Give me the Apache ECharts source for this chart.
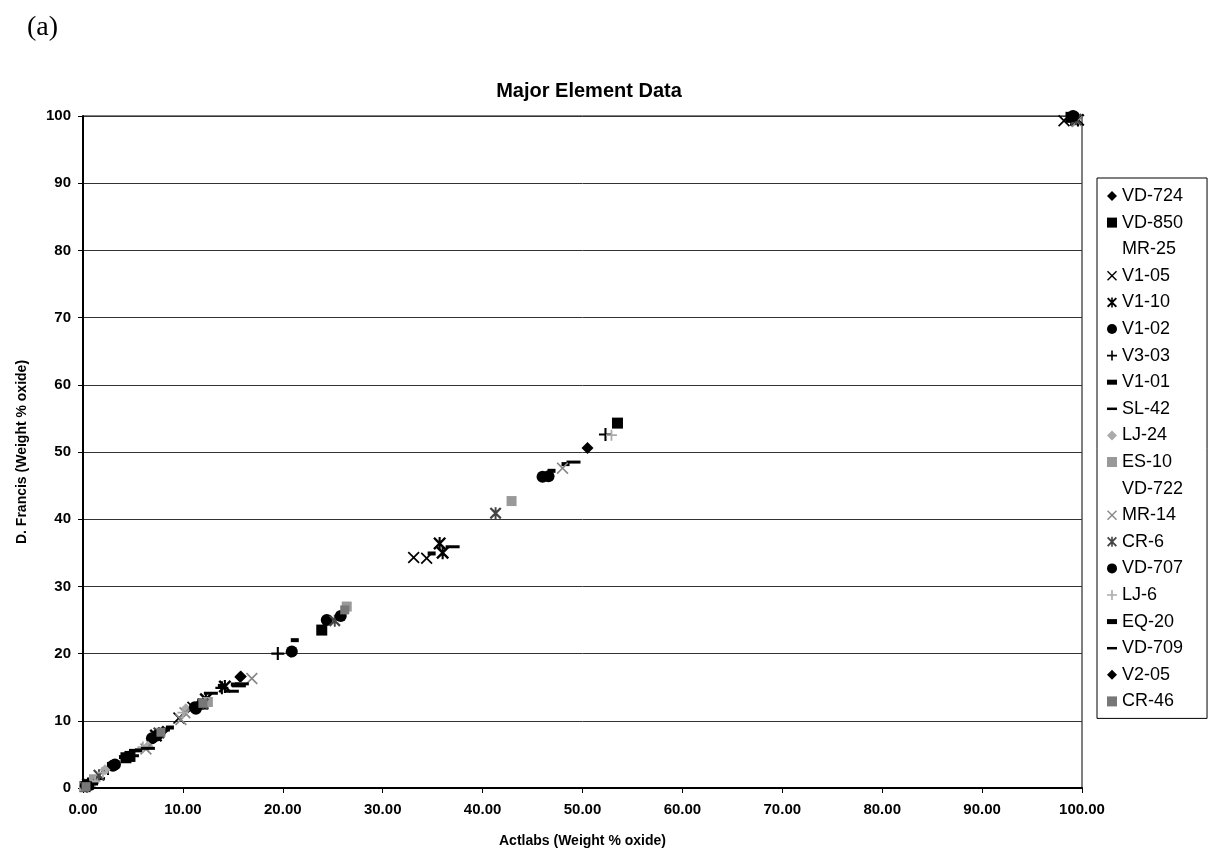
<!DOCTYPE html>
<html>
<head>
<meta charset="utf-8">
<script src="https://cdn.jsdelivr.net/npm/echarts@6/dist/echarts.min.js"></script>
<style>html,body{margin:0;padding:0;background:#fff}#c{width:1218px;height:856px}</style>
</head>
<body>
<div id="c"></div>
<script>
// ---- Data (x = Actlabs, y = D. Francis), weight % oxide ----
const seriesNames = ['VD-724','VD-850','MR-25','V1-05','V1-10','V1-02','V3-03','V1-01','SL-42','LJ-24','ES-10','VD-722','MR-14','CR-6','VD-707','LJ-6','EQ-20','VD-709','V2-05','CR-46'];
const xTicks = [0,10,20,30,40,50,60,70,80,90,100];

const VD724 = [[50.5,50.6],[15.8,16.6],[11.5,12.2],[7.0,7.4],[0.3,0.5],[99.0,99.7]];
const VD850 = [[53.5,54.3],[23.9,23.5],[4.3,4.5],[4.7,4.7],[12.0,12.5],[0.2,0.2],[98.9,99.8]];
const MR25  = [[46.4,46.6],[14.6,14.9],[9.2,9.5],[3.5,3.8],[0.4,0.4],[99.1,99.5]];
const V105  = [[33.1,34.3],[34.4,34.2],[11.0,12.0],[9.6,10.4],[98.2,99.3]];
const V110  = [[35.7,36.4],[36.0,35.0],[12.3,13.2],[14.2,15.1],[7.3,7.8],[0.5,0.6],[99.6,99.4]];
const V102  = [[20.9,20.3],[24.4,25.0],[6.9,7.4],[3.0,3.3],[11.3,11.8],[0.6,0.4],[99.2,99.9]];
const V303  = [[19.5,20.0],[52.3,52.6],[13.9,14.9],[2.5,2.9],[0.4,0.3],[98.9,99.5]];
const V101  = [[34.9,34.9],[21.2,22.0],[48.3,48.2],[15.2,15.4],[8.3,8.7],[5.6,5.6],[0.9,1.2]];
const SL42  = [[37.0,35.9],[49.1,48.5],[15.6,15.2],[14.9,14.4],[5.3,5.6],[1.5,1.4]];
const LJ24  = [[26.3,26.9],[10.3,11.8],[2.2,2.7],[6.5,6.2],[0.2,0.5]];
const ES10  = [[42.9,42.7],[26.4,27.0],[12.5,12.8],[1.1,1.3],[0.1,0.2]];
const VD722 = [[45.8,46.0],[15.0,15.2],[10.5,10.9],[2.8,3.0],[0.5,0.5],[99.3,99.6]];
const MR14  = [[48.0,47.6],[16.9,16.3],[10.2,11.2],[6.3,5.8],[9.8,10.2],[99.5,99.2]];
const CR6   = [[41.3,40.9],[25.2,24.9],[12.0,12.5],[7.6,8.2],[1.6,1.9],[99.4,99.5]];
const VD707 = [[46.0,46.3],[46.6,46.4],[25.8,25.6],[11.2,12.0],[7.4,7.8],[3.2,3.5],[0.3,0.4],[99.1,100.0]];
const LJ6   = [[52.9,52.5],[10.0,11.2],[2.0,2.3],[6.0,6.1],[1.2,1.0]];
const EQ20  = [[46.9,47.2],[13.9,15.2],[8.7,9.0],[4.0,4.6],[0.5,0.7]];
const VD709 = [[6.5,5.9],[15.9,15.5],[12.8,14.1],[4.9,4.8],[0.8,0.6]];
const V205  = [[20.8,20.2],[11.8,12.4],[15.7,16.5],[8.0,8.5],[0.2,0.3]];
const CR46  = [[26.2,26.5],[12.0,12.6],[7.8,8.3],[0.3,0.2]];
const seriesData = [VD724,VD850,MR25,V105,V110,V102,V303,V101,SL42,LJ24,ES10,VD722,MR14,CR6,VD707,LJ6,EQ20,VD709,V205,CR46];

// ---- Marker styles ----
const P_X = 'path://M0,1 L1,0 L5,4 L9,0 L10,1 L6,5 L10,9 L9,10 L5,6 L1,10 L0,9 L4,5 Z';
const P_AST = 'path://M0,1.3 L1.3,0 L5,3.7 L8.7,0 L10,1.3 L6.3,5 L10,8.7 L8.7,10 L5,6.3 L1.3,10 L0,8.7 L3.7,5 Z M4.2,0 L5.8,0 L5.8,10 L4.2,10 Z';
const P_PLUS = 'path://M4.2,0 H5.8 V4.2 H10 V5.8 H5.8 V10 H4.2 V5.8 H0 V4.2 H4.2 Z';
const P_SD = 'path://M0,0 H6 V3 H0 Z';
const P_LD = 'path://M0,0 H12 V3 H0 Z';
const styles = [
  {s:'diamond', z:12, c:'#000'},
  {s:'rect', z:11, c:'#000'},
  {s:'triangle', z:9, c:'rgba(0,0,0,0)'},
  {s:P_X, z:12, c:'#000'},
  {s:P_AST, z:13, c:'#000'},
  {s:'circle', z:12, c:'#000'},
  {s:P_PLUS, z:13, c:'#000'},
  {s:P_SD, z:[8,4], c:'#000'},
  {s:P_LD, z:[14,3], c:'#000'},
  {s:'diamond', z:11, c:'#aaa'},
  {s:'rect', z:10, c:'#999'},
  {s:'triangle', z:9, c:'rgba(0,0,0,0)'},
  {s:P_X, z:12, c:'#888'},
  {s:P_AST, z:12, c:'#444'},
  {s:'circle', z:12, c:'#000'},
  {s:P_PLUS, z:11, c:'#aaa'},
  {s:P_SD, z:[8,4], c:'#000'},
  {s:P_LD, z:[14,3], c:'#000'},
  {s:'diamond', z:11, c:'#000'},
  {s:'rect', z:9, c:'#777'}
];

const chart = echarts.init(document.getElementById('c'));
const FONT = 'Liberation Sans, Arial, sans-serif';
chart.setOption({
  backgroundColor: '#fff',
  animation: false,
  title: {
    text: 'Major Element Data', left: 584, top: 76, textAlign: 'center',
    textStyle: {fontFamily: FONT, fontSize: 20, fontWeight: 'bold', color: '#000'}
  },
  graphic: [{
    type: 'text', left: 27, top: 14,
    style: {text: '(a)', font: '28px "Liberation Serif", "Times New Roman", serif', fill: '#000'}
  }],
  legend: {
    orient: 'vertical', left: 1097, top: 178,
    padding: [9, 24, 8, 10],
    borderColor: '#000', borderWidth: 1,
    itemWidth: 10, itemHeight: 10, itemGap: 8.6,
    textStyle: {fontFamily: FONT, fontSize: 18, color: '#000'},
    data: seriesNames
  },
  grid: {left: 83, right: 136, top: 116, bottom: 68, show: true, borderColor: '#000', borderWidth: 1},
  xAxis: {
    type: 'value', min: 0, max: 100, interval: 10,
    name: 'Actlabs (Weight % oxide)', nameLocation: 'middle', nameGap: 46,
    nameTextStyle: {fontFamily: FONT, fontSize: 14, fontWeight: 'bold', color: '#000'},
    axisLine: {show: true, lineStyle: {color: '#000', width: 2}},
    axisTick: {show: true, inside: false, length: 5, lineStyle: {color: '#000'}},
    axisLabel: {fontFamily: FONT, fontSize: 15, fontWeight: 'bold', color: '#000', margin: 14,
      formatter: v => v.toFixed(2)},
    splitLine: {show: false}
  },
  yAxis: {
    type: 'value', min: 0, max: 100, interval: 10,
    name: 'D. Francis (Weight % oxide)', nameLocation: 'middle', nameGap: 54,
    nameTextStyle: {fontFamily: FONT, fontSize: 14, fontWeight: 'bold', color: '#000'},
    axisLine: {show: true, lineStyle: {color: '#000', width: 2}},
    axisTick: {show: true, inside: false, length: 5, lineStyle: {color: '#000'}},
    axisLabel: {fontFamily: FONT, fontSize: 15, fontWeight: 'bold', color: '#000', margin: 12},
    splitLine: {show: true, lineStyle: {color: '#333', width: 1}}
  },
  series: seriesNames.map((n, i) => ({
    name: n, type: 'scatter', data: seriesData[i],
    symbol: styles[i].s, symbolSize: styles[i].z,
    itemStyle: {color: styles[i].c, opacity: 1}
  }))
});
</script>
</body>
</html>
